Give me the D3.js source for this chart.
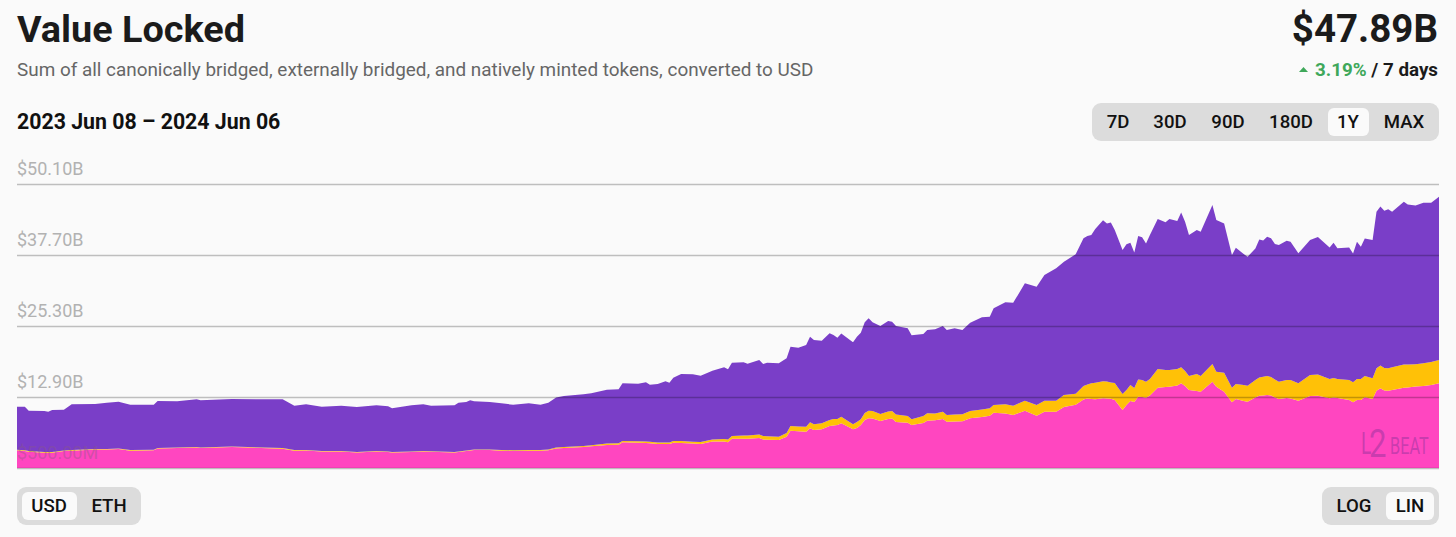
<!DOCTYPE html>
<html>
<head>
<meta charset="utf-8">
<script src="https://cdn.jsdelivr.net/npm/d3@7"></script>
<style>
  html, body { margin: 0; padding: 0; background: #fafafa; }
  svg { display: block; }
  text { font-family: Roboto, sans-serif; }
</style>
</head>
<body>
<svg id="chart" width="1456" height="537"></svg>
<script>
// days after 2023 Jun 08
const days = [
  0,2,3,7,8,9,12,14,20,23,
  26,29,35,36,41,46,47,55,68,71,
  74,78,83,87,92,95,96,101,104,106,
  112,113,115,116,117,121,124,127,131,134,
  136,138,140,145,147,151,154,155,159,161,
  162,164,166,167,168,170,173,175,178,181,
  182,183,186,187,190,191,192,195,197,198,
  200,202,203,204,206,208,209,210,211,214,
  215,216,217,218,219,221,223,224,225,228,
  229,232,233,235,237,238,240,242,244,247,
  249,250,253,255,258,261,263,266,268,271,
  273,274,275,276,278,279,280,281,283,284,
  285,286,287,288,289,290,292,294,295,297,
  298,299,300,302,303,306,307,309,311,312,
  314,315,317,318,319,320,321,322,323,325,
  326,328,331,333,336,337,338,341,342,343,
  344,345,347,348,349,350,351,352,355,356,
  358,360,362,364
]
// $B
const native = [
  3.59,3.47,3.35,3.17,3.17,3.17,3.47,3.52,3.71,3.73,
  3.82,3.52,3.59,3.90,3.99,4.10,3.99,4.17,3.87,3.52,
  3.56,3.38,3.38,3.21,3.38,3.29,3.21,3.29,3.38,3.33,
  3.21,3.29,3.47,3.56,3.64,3.64,3.52,3.47,3.50,3.50,
  3.59,3.90,3.99,4.17,4.31,4.52,4.57,4.99,4.92,4.87,
  4.83,4.69,4.69,4.69,4.92,4.87,4.78,4.69,5.13,5.13,
  4.99,5.62,5.62,5.62,5.74,5.48,5.44,5.39,5.96,7.01,
  6.93,6.84,7.43,7.13,7.26,7.83,7.92,8.01,8.30,7.26,
  7.48,8.01,8.88,9.18,9.14,8.71,9.06,9.14,8.53,8.41,
  8.01,8.36,8.76,8.85,9.06,8.58,8.62,8.65,9.18,9.40,
  9.63,10.16,10.02,9.75,10.50,9.63,10.33,10.33,11.15,11.55,
  12.46,12.63,12.55,12.49,12.67,12.63,12.58,12.37,10.63,11.50,
  12.20,12.02,12.95,12.90,12.77,13.16,14.52,14.64,14.69,14.90,
  15.29,14.82,14.12,13.94,13.82,15.57,14.69,13.82,11.97,12.55,
  12.20,12.08,12.81,13.12,13.16,13.25,13.16,12.81,12.55,12.72,
  12.63,12.25,13.07,13.12,12.67,12.81,12.72,12.37,11.97,12.37,
  12.37,12.84,12.55,14.00,14.42,14.03,14.00,14.12,14.52,14.56,
  14.73,14.82,14.99,15.29
]
const external = [
  .10,.12,.12,.12,.12,.12,.09,.12,.10,.09,
  .09,.12,.10,.09,.09,.07,.09,.07,.12,.12,
  .09,.09,.09,.09,.09,.09,.09,.09,.09,.09,
  .09,.09,.09,.09,.09,.09,.12,.14,.14,.14,
  .14,.17,.17,.17,.17,.26,.26,.23,.26,.26,
  .26,.26,.26,.26,.30,.35,.30,.35,.35,.44,
  .49,.47,.56,.56,.61,.61,.59,.58,.65,.82,
  .82,.87,1.05,1.00,1.05,1.05,1.13,1.05,1.15,.87,
  1.05,1.00,1.22,1.33,1.31,1.22,1.31,1.31,1.31,1.17,
  1.00,1.22,1.29,1.17,1.27,1.17,1.22,1.22,1.27,1.31,
  1.29,1.34,1.61,1.62,1.75,1.87,1.92,1.92,2.10,1.92,
  2.36,2.44,2.74,2.90,2.97,2.97,2.86,2.97,2.79,2.62,
  2.79,2.44,3.02,2.97,2.79,2.88,3.26,2.97,2.92,2.89,
  2.79,2.62,2.44,2.97,2.74,3.09,2.62,3.31,2.55,2.62,
  2.79,2.79,3.05,3.20,3.27,3.32,3.23,3.14,3.02,3.14,
  3.23,3.04,3.67,3.72,3.37,3.40,3.32,3.49,3.49,3.67,
  3.67,3.72,3.61,3.91,3.98,3.93,3.91,3.96,4.07,4.03,
  3.91,3.96,4.02,4.07
]
const canonical = [
  7.51,7.61,7.04,7.16,7.04,7.33,7.12,7.98,7.86,8.08,
  8.17,7.91,7.86,8.21,8.07,8.33,8.24,8.31,8.50,7.73,
  7.98,7.73,7.91,7.86,7.98,7.89,7.63,8.07,8.15,7.96,
  8.15,8.52,8.47,8.68,8.42,8.29,8.15,7.94,8.15,7.91,
  8.17,8.76,8.90,9.03,9.06,9.39,9.41,10.07,10.04,10.34,
  9.95,10.21,10.69,10.44,11.05,11.70,11.79,11.58,12.01,12.52,
  12.26,12.80,12.78,12.54,13.01,12.57,12.85,12.82,13.04,13.85,
  13.76,14.26,14.95,14.72,14.42,15.14,14.67,14.19,14.56,14.32,
  14.89,15.12,15.84,16.13,15.49,15.36,15.80,15.59,15.45,15.31,
  14.67,14.32,14.54,14.70,14.96,14.84,15.05,14.72,15.42,16.10,
  15.99,16.88,17.81,17.98,20.50,20.66,21.95,23.12,23.27,24.34,
  25.79,25.93,25.89,26.84,28.11,27.62,27.94,26.71,25.14,25.44,
  24.85,23.69,25.07,24.92,24.17,25.14,26.19,25.79,26.36,25.84,
  27.06,26.07,24.62,25.14,25.19,27.76,26.49,26.09,23.17,23.80,
  22.87,22.52,22.99,24.09,23.80,24.32,24.22,23.66,23.87,24.32,
  24.15,22.70,23.57,24.02,22.99,23.62,22.82,23.17,22.52,23.97,
  23.10,24.04,24.15,27.34,27.76,27.46,27.76,27.17,28.39,27.94,
  27.71,28.04,27.81,28.53
]
const seriesKeys = ["native", "external", "canonical"]
const seriesColors = ["#ff46c0", "#ffc107", "#7a3ec8"]
const yTicks = [0.5, 12.9, 25.3, 37.7, 50.1]
const yTickLabels = ["$500.00M", "$12.90B", "$25.30B", "$37.70B", "$50.10B"]
const rangeButtons = ["7D", "30D", "90D", "180D", "1Y", "MAX"]
const unitButtons = ["USD", "ETH"]
const scaleButtons = ["LOG", "LIN"]

const svg = d3.select("#chart")
const startDate = new Date(2023, 5, 8)
const endDate = d3.timeDay.offset(startDate, 364)

const x = d3.scaleTime().domain([startDate, endDate]).range([17, 1439])
const y = d3.scaleLinear().domain([0.5, 50.1]).range([468, 184])

const rows = days.map((d, i) => ({
  date: d3.timeDay.offset(startDate, d),
  native: native[i] - 0.5, // stack from the $500M baseline
  external: external[i],
  canonical: canonical[i]
}))
const stacked = d3.stack().keys(seriesKeys).offset(s => {
  s[0].forEach(p => { p[0] += 0.5; p[1] += 0.5 })
  for (let k = 1; k < s.length; k++) {
    s[k].forEach((p, i) => { p[0] = s[k - 1][i][1]; p[1] = p[0] + (rows[i][seriesKeys[k]]) })
  }
})(rows)

const area = d3.area().x(d => x(d.data.date)).y0(d => y(d[0])).y1(d => y(d[1]))

// header
function label(txt, px, py, size, weight, fill, anchor) {
  return svg.append("text").attr("x", px).attr("y", py).attr("font-size", size)
    .attr("font-weight", weight).attr("fill", fill).attr("text-anchor", anchor || "start").text(txt)
}
label("Value Locked", 17, 42, 37.8, 700, "#1b1b1b")
label("Sum of all canonically bridged, externally bridged, and natively minted tokens, converted to USD", 17, 76, 18.9, "400", "#666")
label("2023 Jun 08 – 2024 Jun 06", 17, 129, 21.3, 700, "#111")
label("$47.89B", 1438, 42, 38.5, 700, "#1b1b1b", "end")

const change = label("", 1438, 76, 18.8, 700, "#1b1b1b", "end")
change.append("tspan").attr("fill", "#3fa85a").text("3.19%")
change.append("tspan").text(" / 7 days")
svg.append("path").attr("d", "M1299,72L1303.5,67L1308,72Z").attr("fill", "#3fa85a")

// toggles
function buttonGroup(names, centers, bx, bw, by, activeBox) {
  svg.append("rect").attr("x", bx).attr("y", by).attr("width", bw).attr("height", 38)
    .attr("rx", 9).attr("fill", "#dcdcdc")
  svg.append("rect").attr("x", activeBox[0]).attr("y", by + 5).attr("width", activeBox[1]).attr("height", 28)
    .attr("rx", 6).attr("fill", "#fafafa")
  svg.selectAll(null).data(names).join("text")
    .attr("x", (d, i) => centers[i]).attr("y", by + 25)
    .attr("text-anchor", "middle").attr("font-size", 18.6).attr("font-weight", 500).attr("fill", "#111")
    .text(d => d)
}
buttonGroup(rangeButtons, [1118, 1170, 1228, 1291, 1348, 1404], 1092, 347, 103, [1328, 41])
buttonGroup(unitButtons, [49, 109], 17, 124, 487, [22, 55])
buttonGroup(scaleButtons, [1354, 1410], 1322, 117, 487, [1386, 48])

// stacked areas
svg.append("g").selectAll("path").data(stacked).join("path")
  .attr("d", area)
  .attr("fill", (d, i) => seriesColors[i])

// watermark
const mark = svg.append("g").attr("fill", "#7d2f95").attr("fill-opacity", 0.42).attr("font-weight", 400)
mark.append("text").attr("transform", "translate(1361,454) scale(0.62,1)").attr("font-size", 31).text("L")
mark.append("text").attr("transform", "translate(1369,457) scale(0.82,1)").attr("font-size", 38).text("2")
mark.append("text").attr("transform", "translate(1390,454) scale(0.68,1)").attr("font-size", 24).text("BEAT")

// y axis, grid lines over the areas
const axis = svg.append("g").attr("transform", "translate(17,0)")
  .call(d3.axisRight(y).tickValues(yTicks).tickSize(1422).tickFormat((d, i) => yTickLabels[i]))
axis.select(".domain").remove()
axis.selectAll(".tick line").attr("stroke", "#000").attr("stroke-opacity", 0.24).attr("stroke-width", 1.4)
axis.selectAll(".tick text").attr("x", 0).attr("dy", -10).attr("font-size", 18)
  .attr("font-family", "Roboto, sans-serif").attr("fill", "#b2b2b2")
axis.selectAll(".tick").filter(d => d === 0.5).select("text").attr("fill", "#8a5a80").attr("fill-opacity", 0.4)
</script>
</body>
</html>
